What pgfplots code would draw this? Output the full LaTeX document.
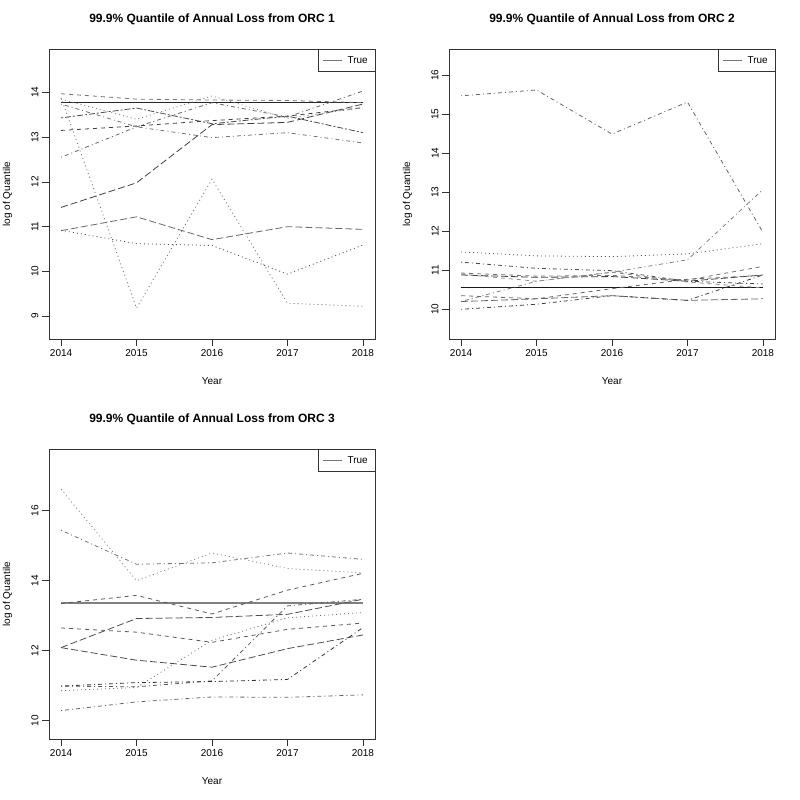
\documentclass[border=0pt]{standalone}
\usepackage{fontspec}
\setmainfont{Liberation Sans}
\usepackage{pgfplots}
\pgfplotsset{compat=1.18}

% R line types
\tikzset{
  ldash/.style={dash pattern=on 4pt off 4pt},
  ldot/.style={dash pattern=on 1pt off 3pt},
  ldotdash/.style={dash pattern=on 1pt off 3pt on 4pt off 3pt},
  llong/.style={dash pattern=on 7pt off 3pt},
  ltwo/.style={dash pattern=on 2pt off 2pt on 6pt off 2pt},
}

\pgfplotsset{
  orc/.style={
    scale only axis, width=326pt, height=290pt,
    xmin=2013.84, xmax=2018.16,
    xtick={2014,2015,2016,2017,2018},
    no markers,
    axis line style={black!80, line width=0.7pt},
    tick align=outside, major tick length=7pt,
    tick style={black!80, line width=0.6pt},
    xtick pos=left, ytick pos=left,
    /pgf/number format/assume math mode=true,
    /pgf/number format/1000 sep={},
    tick label style={font=\fontsize{10}{12}\selectfont},
    yticklabel style={rotate=90, anchor=south},
    title style={font=\bfseries\fontsize{12}{14}\selectfont,
      at={(axis description cs:0.5,1.0828)}, anchor=center},
    xlabel=Year, ylabel=log of Quantile,
    label style={font=\fontsize{10}{12}\selectfont},
    xlabel style={at={(axis description cs:0.5,-0.1448)}, anchor=center},
    ylabel style={at={(axis description cs:-0.1273,0.5)}, anchor=center},
    legend style={at={(1,1)}, anchor=north east, draw=black!80,
      font=\fontsize{10}{12}\selectfont, inner xsep=5pt, inner ysep=5pt,
      /tikz/every odd column/.append style={column sep=3pt}},
    legend image code/.code={\draw[#1] (0pt,0pt) -- (19pt,0pt);},
    every axis plot/.append style={line width=0.8pt},
  }
}

\begin{document}
\begin{tikzpicture}[x=1pt,y=1pt]
\useasboundingbox (0,0) rectangle (800,800);

% ---- ORC 1 ----
\begin{axis}[orc, at={(49pt,461pt)}, anchor=south west,
  ymin=8.49, ymax=14.97, ytick={9,10,11,12,13,14},
  title={99.9\% Quantile of Annual Loss from ORC 1}]
\addlegendimage{black!55, solid}
\addlegendentry{True}
\addplot[black!85, solid] coordinates {(2014,13.78) (2015,13.78) (2016,13.78) (2017,13.78) (2018,13.78)};
\addplot[black!55, ldash] coordinates {(2014,13.97) (2015,13.85) (2016,13.83) (2017,13.82) (2018,13.77)};
\addplot[black!55, ldot] coordinates {(2014,13.88) (2015,9.18) (2016,12.06) (2017,9.29) (2018,9.22)};
\addplot[black!70, ldot] coordinates {(2014,10.92) (2015,10.62) (2016,10.58) (2017,9.94) (2018,10.59)};
\addplot[black!60, llong] coordinates {(2014,10.91) (2015,11.22) (2016,10.71) (2017,11.00) (2018,10.94)};
\addplot[black!75, llong] coordinates {(2014,11.43) (2015,11.98) (2016,13.28) (2017,13.33) (2018,13.74)};
\addplot[black!60, ldotdash] coordinates {(2014,12.55) (2015,13.23) (2016,13.77) (2017,13.45) (2018,14.03)};
\addplot[black!75, ldash] coordinates {(2014,13.15) (2015,13.25) (2016,13.37) (2017,13.47) (2018,13.66)};
\addplot[black!70, ltwo] coordinates {(2014,13.43) (2015,13.65) (2016,13.30) (2017,13.47) (2018,13.10)};
\addplot[black!55, ldotdash] coordinates {(2014,13.74) (2015,13.23) (2016,12.99) (2017,13.10) (2018,12.87)};
\addplot[black!50, ldot] coordinates {(2014,13.85) (2015,13.40) (2016,13.92) (2017,13.42) (2018,13.66)};
\end{axis}

% ---- ORC 2 ----
\begin{axis}[orc, at={(449pt,461pt)}, anchor=south west,
  ymin=9.24, ymax=16.67, ytick={10,11,12,13,14,15,16},
  title={99.9\% Quantile of Annual Loss from ORC 2}]
\addlegendimage{black!55, solid}
\addlegendentry{True}
\addplot[black!90, solid] coordinates {(2014,10.55) (2015,10.55) (2016,10.55) (2017,10.55) (2018,10.55)};
\addplot[black!60, ldotdash] coordinates {(2014,15.47) (2015,15.62) (2016,14.49) (2017,15.31) (2018,11.97)};
\addplot[black!50, ldotdash] coordinates {(2014,10.20) (2015,10.72) (2016,10.95) (2017,11.27) (2018,13.07)};
\addplot[black!65, ldot] coordinates {(2014,11.47) (2015,11.37) (2016,11.35) (2017,11.42) (2018,11.68)};
\addplot[black!70, ldotdash] coordinates {(2014,11.21) (2015,11.05) (2016,10.99) (2017,10.72) (2018,10.65)};
\addplot[black!55, ldash] coordinates {(2014,10.93) (2015,10.85) (2016,10.87) (2017,10.75) (2018,11.10)};
\addplot[black!75, llong] coordinates {(2014,10.88) (2015,10.82) (2016,10.84) (2017,10.72) (2018,10.88)};
\addplot[black!45, ldash] coordinates {(2014,10.90) (2015,10.72) (2016,10.95) (2017,10.70) (2018,10.55)};
\addplot[black!60, ldash] coordinates {(2014,10.35) (2015,10.27) (2016,10.53) (2017,10.77) (2018,10.87)};
\addplot[black!60, llong] coordinates {(2014,10.20) (2015,10.27) (2016,10.35) (2017,10.23) (2018,10.27)};
\addplot[black!75, ldotdash] coordinates {(2014,10.00) (2015,10.13) (2016,10.35) (2017,10.23) (2018,10.88)};
\end{axis}

% ---- ORC 3 ----
\begin{axis}[orc, at={(49pt,61pt)}, anchor=south west,
  ymin=9.48, ymax=17.76, ytick={10,12,14,16},
  title={99.9\% Quantile of Annual Loss from ORC 3}]
\addlegendimage{black!55, solid}
\addlegendentry{True}
\addplot[black!50, solid, line width=1.3pt] coordinates {(2014,13.36) (2015,13.36) (2016,13.36) (2017,13.36) (2018,13.36)};
\addplot[black!50, ldot] coordinates {(2014,16.61) (2015,14.00) (2016,14.79) (2017,14.35) (2018,14.22)};
\addplot[black!55, ldotdash] coordinates {(2014,15.44) (2015,14.47) (2016,14.51) (2017,14.79) (2018,14.61)};
\addplot[black!65, ldash] coordinates {(2014,13.35) (2015,13.58) (2016,13.05) (2017,13.73) (2018,14.21)};
\addplot[black!70, llong] coordinates {(2014,12.09) (2015,12.92) (2016,12.95) (2017,13.04) (2018,13.47)};
\addplot[black!65, ldash] coordinates {(2014,12.65) (2015,12.53) (2016,12.24) (2017,12.61) (2018,12.79)};
\addplot[black!70, llong] coordinates {(2014,12.09) (2015,11.73) (2016,11.53) (2017,12.06) (2018,12.45)};
\addplot[black!55, ldot] coordinates {(2014,10.86) (2015,10.95) (2016,12.30) (2017,12.94) (2018,13.09)};
\addplot[black!65, ldotdash] coordinates {(2014,10.99) (2015,10.97) (2016,11.14) (2017,13.28) (2018,13.47)};
\addplot[black!80, ldotdash] coordinates {(2014,10.99) (2015,11.09) (2016,11.12) (2017,11.18) (2018,12.66)};
\addplot[black!60, ldotdash] coordinates {(2014,10.29) (2015,10.54) (2016,10.68) (2017,10.67) (2018,10.74)};
\end{axis}
\end{tikzpicture}
\end{document}
